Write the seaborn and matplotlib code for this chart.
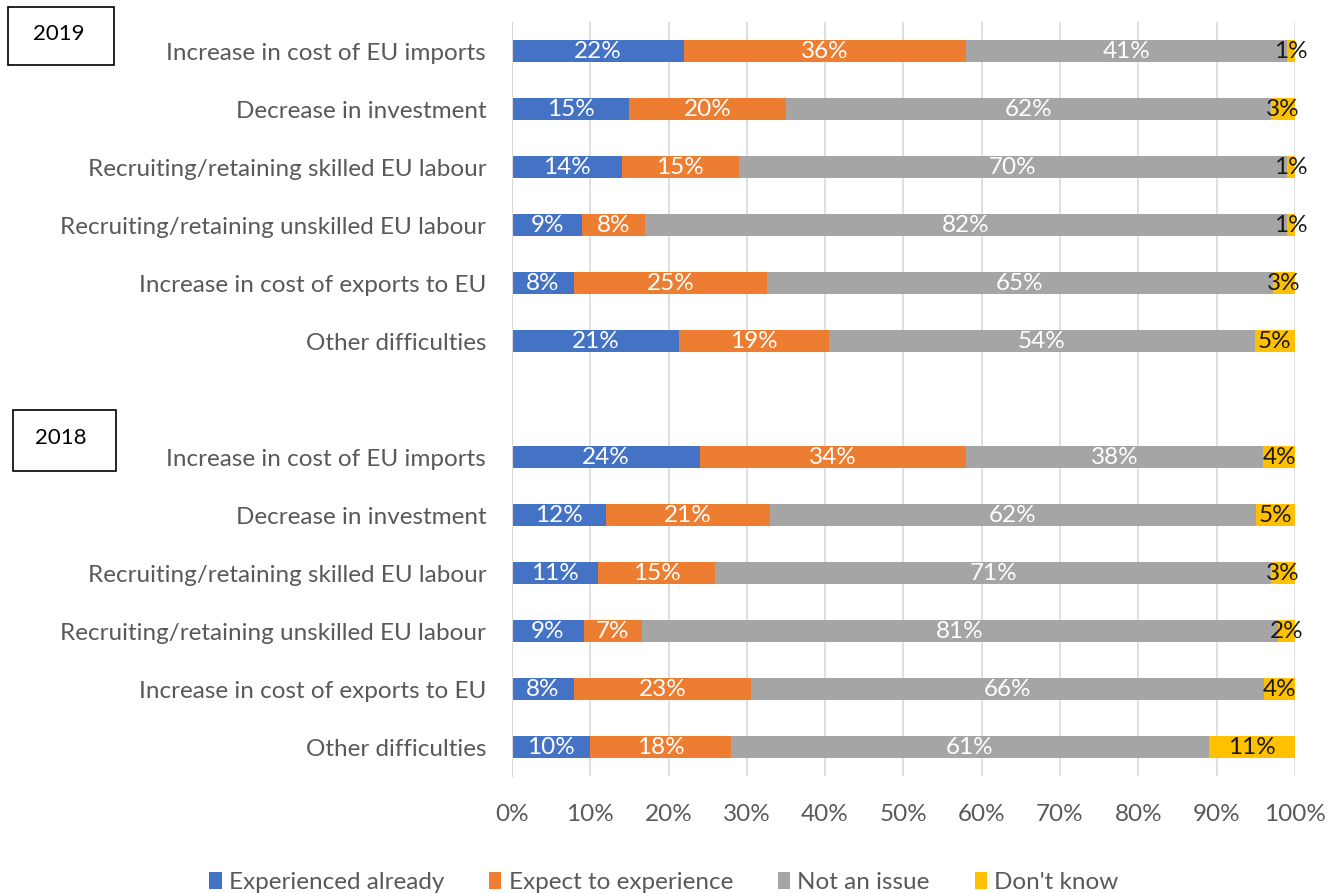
import numpy as np
import pandas as pd
import matplotlib
matplotlib.use("Agg")
import matplotlib.pyplot as plt
import seaborn as sns
from matplotlib.patches import Patch, Rectangle

# categories (same six for both years)
categories = [
    "Increase in cost of EU imports",
    "Decrease in investment",
    "Recruiting/retaining skilled EU labour",
    "Recruiting/retaining unskilled EU labour",
    "Increase in cost of exports to EU",
    "Other difficulties",
]
series = ["Experienced already", "Expect to experience", "Not an issue", "Don't know"]

# 2019 shares (%)
experienced_2019 = [22, 15, 14, 9, 7.9, 21.3]
expect_2019 = [36, 20, 15, 8, 24.7, 19.2]
not_issue_2019 = [41, 62, 70, 82, 64.6, 54.4]
dont_know_2019 = [1, 3, 1, 1, 2.8, 5.1]

# 2018 shares (%)
experienced_2018 = [24, 12, 11, 9.2, 7.9, 10]
expect_2018 = [34, 21, 15, 7.4, 22.6, 18]
not_issue_2018 = [38, 62, 71, 81.3, 65.6, 61]
dont_know_2018 = [4, 5, 3, 2.1, 3.9, 11]

colors = ["#4472C4", "#ED7D31", "#A5A5A5", "#FFC000"]
label_colors = ["white", "white", "white", "#1a1a1a"]

sns.set_style("white")
plt.rcParams["font.family"] = ["Lato", "DejaVu Sans"]
FS = 17.5

# row slots: 2019 rows 0-5, empty slot 6, 2018 rows 7-12
rows = []
for yr, vals, offset in [
    ("2019", [experienced_2019, expect_2019, not_issue_2019, dont_know_2019], 0),
    ("2018", [experienced_2018, expect_2018, not_issue_2018, dont_know_2018], 7),
]:
    for i, cat in enumerate(categories):
        row = {"year": yr, "category": cat, "pos": offset + i}
        for s, v in zip(series, vals):
            row[s] = v[i]
        rows.append(row)
df = pd.DataFrame(rows)

cum = df[series].cumsum(axis=1)

fig = plt.figure(figsize=(13.28, 8.93), dpi=100)
ax = fig.add_axes([0.3855, 0.131, 0.5895, 0.844])

# draw from the largest cumulative total down so each segment stays visible
for k in range(len(series) - 1, -1, -1):
    sns.barplot(x=cum[series[k]], y=df["pos"], orient="h", native_scale=True,
                color=colors[k], saturation=1, width=0.38, ax=ax, linewidth=0)

for _, r in df.iterrows():
    left = 0
    for k, s in enumerate(series):
        v = r[s]
        ax.text(left + v / 2, r["pos"], f"{v:.0f}%", ha="center", va="center",
                color=label_colors[k], fontsize=FS)
        left += v

ax.set_ylim(12.5, -0.5)
ax.set_xlim(0, 100)
ax.set_yticks(df["pos"])
ax.set_yticklabels(df["category"], color="#595959", fontsize=FS)
ax.set_xticks(np.arange(0, 101, 10))
ax.set_xticklabels([f"{t}%" for t in range(0, 101, 10)], color="#595959", fontsize=FS)
ax.tick_params(axis="y", length=0, pad=18.5)
ax.tick_params(axis="x", length=0, pad=20)
ax.set_xlabel("")
ax.set_ylabel("")
ax.xaxis.grid(True, color="#D9D9D9", linewidth=1.2)
ax.set_axisbelow(True)
for side in ["top", "right", "bottom"]:
    ax.spines[side].set_visible(False)
ax.spines["left"].set_color("#D9D9D9")

# year boxes (pixel layout of the reference converted to figure fractions)
W, H = 1328, 893
for txt, (x0, y0, x1, y1), (tx, ty) in [
    ("2019", (8, 7, 114, 65), (59, 34)),
    ("2018", (13, 410, 116, 471), (61, 438)),
]:
    fig.patches.append(Rectangle((x0 / W, 1 - y1 / H), (x1 - x0) / W, (y1 - y0) / H,
                                 transform=fig.transFigure, facecolor="white",
                                 edgecolor="black", linewidth=1.2))
    fig.text(tx / W, 1 - ty / H, txt, ha="center", va="center", fontsize=16,
             color="black")

handles = [Patch(facecolor=c, edgecolor="none") for c in colors]
leg = fig.legend(handles, series, loc="center", bbox_to_anchor=(0.5, 0.012),
                 ncol=4, frameon=False, fontsize=FS, handlelength=0.5,
                 handleheight=0.75, handletextpad=0.3, columnspacing=1.85)
for t in leg.get_texts():
    t.set_color("#595959")

fig.savefig("out.png", dpi=100)
